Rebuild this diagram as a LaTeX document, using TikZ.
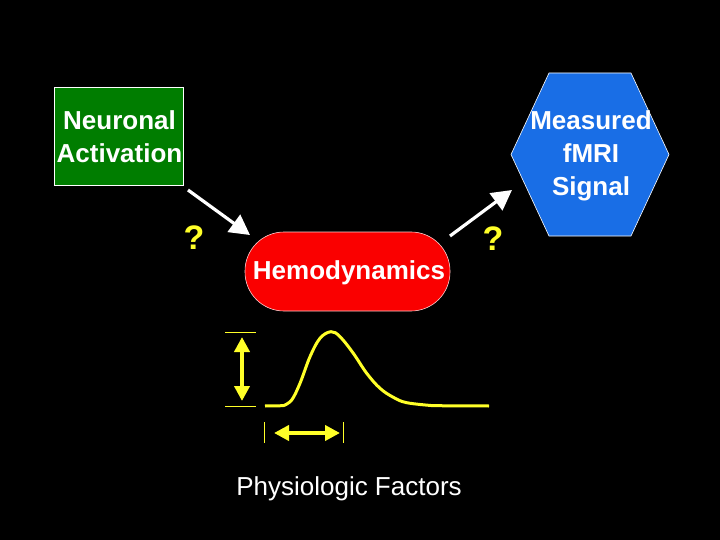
\documentclass[tikz,border=0pt]{standalone}
\usepackage{fontspec}
\setmainfont{Liberation Sans}
\usetikzlibrary{arrows.meta}
\definecolor{boxgreen}{RGB}{0,125,0}
\definecolor{hexblue}{RGB}{25,110,230}
\definecolor{pillred}{RGB}{250,0,0}
\definecolor{curveyellow}{RGB}{255,255,40}
\tikzset{
  bigtxt/.style={font=\fontsize{26}{33}\selectfont\bfseries, text=white, align=center},
  qmark/.style={font=\fontsize{34}{36}\selectfont\bfseries, text=curveyellow},
  flowarrow/.style={draw=white, line width=3.2pt, -{Triangle[length=20pt,width=21pt]}},
  dimarrow/.style={draw=curveyellow, line width=4pt, {Triangle[length=15pt,width=15pt]}-{Triangle[length=15pt,width=15pt]}},
  dimtick/.style={draw=curveyellow, line width=0.8pt},
}
\begin{document}
\begin{tikzpicture}[x=1pt,y=-1pt]
\fill[black] (0,0) rectangle (720,540);
\useasboundingbox (0,0) rectangle (720,540);

% Neuronal Activation box
\node[draw=white, line width=0.6pt, fill=boxgreen, minimum width=129pt, minimum height=98pt, inner sep=0pt] (neuro) at (118.5,136) {};
\node[bigtxt, inner sep=0pt] (neurotxt) at (119.5,137) {Neuronal\\Activation};

% Hemodynamics pill
\node[draw=white!80!red, line width=0.6pt, fill=pillred, minimum width=205pt, minimum height=79pt, rounded corners=39pt, inner sep=0pt] (hemo) at (347.5,271.5) {};
\node[bigtxt, inner sep=0pt] (hemotxt) at (349,273) {Hemodynamics};

% Hexagon
\filldraw[fill=hexblue, draw=white, line width=0.6pt] (549,73) -- (631,73) -- (669,154.5) -- (631,236) -- (549,236) -- (511,154.5) -- cycle;
\node[bigtxt, inner sep=0pt] (fmri) at (591,156) {Measured\\fMRI\\Signal};

% arrows
\coordinate (a1s) at (188,190);
\coordinate (a1e) at (250,235);
\coordinate (a2s) at (450,236);
\coordinate (a2e) at (512,190);
\draw[flowarrow] (a1s) -- (a1e);
\draw[flowarrow] (a2s) -- (a2e);

\node[qmark, inner sep=0pt] (q1) at (194,238) {?};
\node[qmark, inner sep=0pt] (q2) at (493,239) {?};

% response curve
\draw[curveyellow, line width=3pt] (265,406) -- (283.3,405.7)
  plot[smooth, tension=0.6] coordinates {(283.3,405.7) (291.7,400) (300,383.3) (310,356.7) (320,338.3) (331,331.7) (340,336.7) (353.3,353.3) (366.7,373.3) (380,388.3) (393.3,397.3) (406.7,402.7) (433.3,405.7)}
  -- (489,406);

% amplitude marker
\coordinate (amptop) at (242,337);
\coordinate (ampbot) at (242,401);
\draw[dimtick] (225,332) -- (256,332);
\draw[dimtick] (225,406) -- (256,406);
\draw[dimarrow] (amptop) -- (ampbot);

% width marker
\coordinate (wl) at (274,433);
\coordinate (wr) at (340,433);
\draw[dimtick] (264,422) -- (264,443);
\draw[dimtick] (343,422) -- (343,443);
\draw[dimarrow] (wl) -- (wr);

\node[font=\fontsize{26}{30}\selectfont, text=white, inner sep=0pt] (phys) at (349,489) {Physiologic Factors};
\end{tikzpicture}
\end{document}
